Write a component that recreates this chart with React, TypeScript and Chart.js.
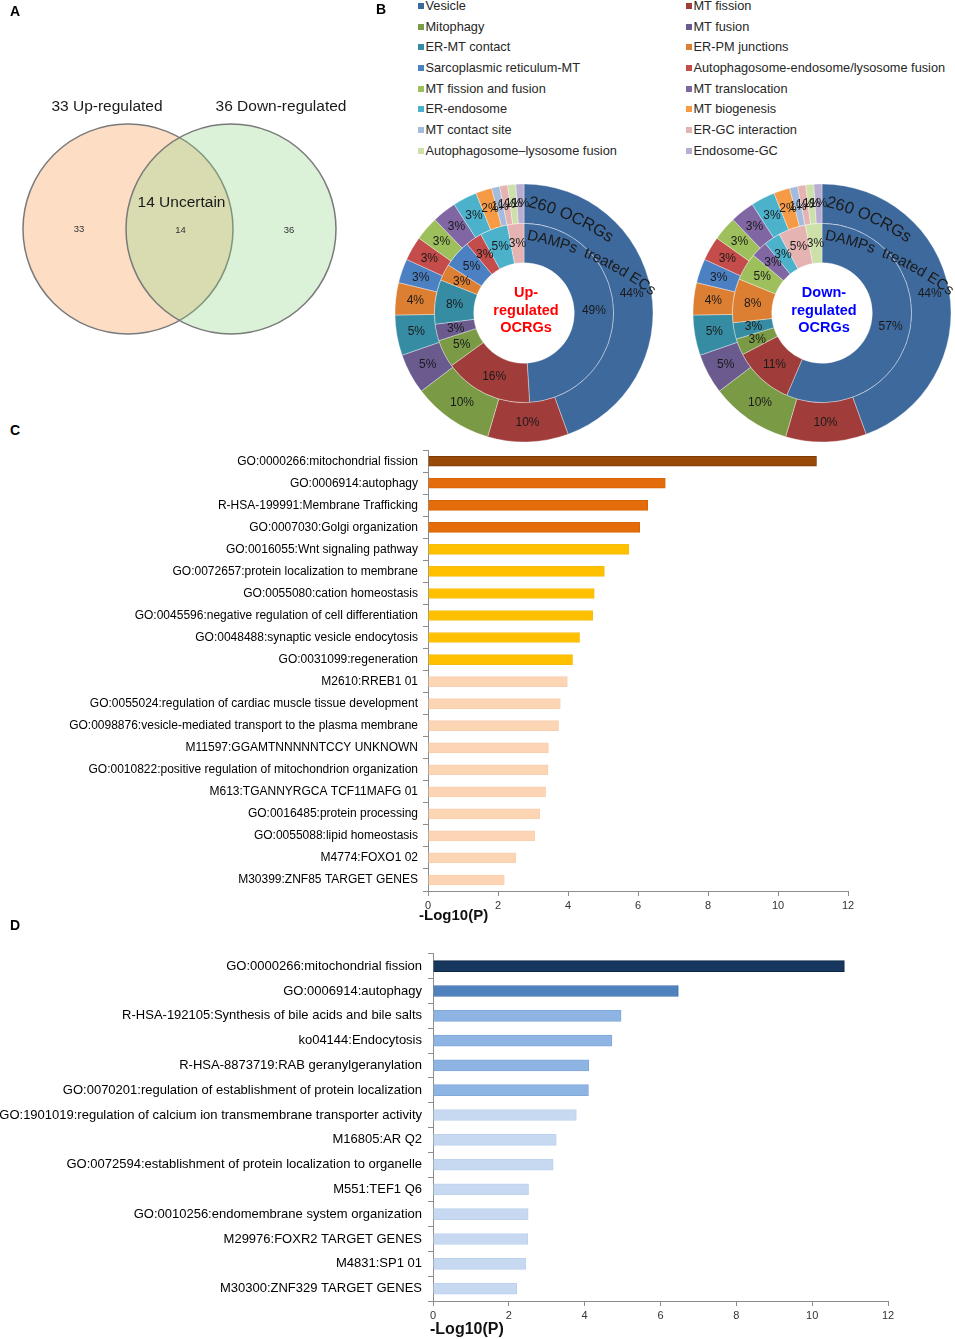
import React, { useEffect, useRef } from 'react';
import { Chart, registerables } from 'chart.js';

Chart.register(...registerables);

const FONT = '"Liberation Sans", Arial, Helvetica, sans-serif';

// ---------- Panel A : Venn ----------
const vennSetLabels = ['33 Up-regulated', '36 Down-regulated'];
const vennSetCounts = [33, 36];
const vennOverlapLabel = '14 Uncertain';
const vennOverlapCount = 14;
const vennFills = ['rgba(250,160,90,0.35)', 'rgba(135,212,128,0.30)'];

// ---------- Panel B : donuts ----------
const ocrgCategories = [
  'Vesicle', 'MT fission', 'Mitophagy', 'MT fusion', 'ER-MT contact', 'ER-PM junctions',
  'Sarcoplasmic reticulum-MT', 'Autophagosome-endosome/lysosome fusion', 'MT fission and fusion',
  'MT translocation', 'ER-endosome', 'MT biogenesis', 'MT contact site', 'ER-GC interaction',
  'Autophagosome\u2013lysosome fusion', 'Endosome-GC',
];
const ocrgColors = [
  '#3e699d', '#a03d3a', '#7a9a45', '#6a5a8e', '#368da3', '#dd7f33',
  '#4b80c2', '#c44c4a', '#9dbf5c', '#8066a3', '#4cb2cc', '#f79a45',
  '#a3bbdc', '#e5b3b2', '#cde0aa', '#b9aed2',
];
const allOcrgShare = [44, 10, 10, 5, 5, 4, 3, 3, 3, 3, 3, 2, 1, 1, 1, 1];
const upDampsShare = [49, 16, 5, 3, 8, 3, 5, 3, 0, 0, 5, 0, 0, 3, 0, 0];
const downDampsShare = [57, 11, 3, 0, 3, 8, 0, 0, 5, 3, 3, 0, 0, 5, 3, 0];
const outerRingLabel = '260 OCRGs';
const innerRingLabel = 'DAMPs  treated ECs';
const upCenterLines = ['Up-', 'regulated', 'OCRGs'];
const downCenterLines = ['Down-', 'regulated', 'OCRGs'];

// ---------- Panel C ----------
const upTerms = [
  'GO:0000266:mitochondrial fission',
  'GO:0006914:autophagy',
  'R-HSA-199991:Membrane Trafficking',
  'GO:0007030:Golgi organization',
  'GO:0016055:Wnt signaling pathway',
  'GO:0072657:protein localization to membrane',
  'GO:0055080:cation homeostasis',
  'GO:0045596:negative regulation of cell differentiation',
  'GO:0048488:synaptic vesicle endocytosis',
  'GO:0031099:regeneration',
  'M2610:RREB1 01',
  'GO:0055024:regulation of cardiac muscle tissue development',
  'GO:0098876:vesicle-mediated transport to the plasma membrane',
  'M11597:GGAMTNNNNNTCCY UNKNOWN',
  'GO:0010822:positive regulation of mitochondrion organization',
  'M613:TGANNYRGCA TCF11MAFG 01',
  'GO:0016485:protein processing',
  'GO:0055088:lipid homeostasis',
  'M4774:FOXO1 02',
  'M30399:ZNF85 TARGET GENES',
];
const upLogP = [11.1, 6.78, 6.28, 6.05, 5.74, 5.04, 4.75, 4.71, 4.33, 4.13, 3.98, 3.78, 3.73, 3.44, 3.43, 3.36, 3.19, 3.05, 2.51, 2.18];
const upTier = [0, 1, 1, 1, 2, 2, 2, 2, 2, 2, 3, 3, 3, 3, 3, 3, 3, 3, 3, 3];
const upTierFill = ['#984807', '#e46c0a', '#ffc000', '#fcd5b5'];
const upTierBorder = ['#7a3905', '#d66408', '#f5bc12', '#f8cfae'];

// ---------- Panel D ----------
const downTerms = [
  'GO:0000266:mitochondrial fission',
  'GO:0006914:autophagy',
  'R-HSA-192105:Synthesis of bile acids and bile salts',
  'ko04144:Endocytosis',
  'R-HSA-8873719:RAB geranylgeranylation',
  'GO:0070201:regulation of establishment of protein localization',
  'GO:1901019:regulation of calcium ion transmembrane transporter activity',
  'M16805:AR Q2',
  'GO:0072594:establishment of protein localization to organelle',
  'M551:TEF1 Q6',
  'GO:0010256:endomembrane system organization',
  'M29976:FOXR2 TARGET GENES',
  'M4831:SP1 01',
  'M30300:ZNF329 TARGET GENES',
];
const downLogP = [10.85, 6.47, 4.96, 4.72, 4.11, 4.1, 3.78, 3.25, 3.17, 2.52, 2.51, 2.5, 2.45, 2.21];
const downTier = [0, 1, 2, 2, 2, 2, 3, 3, 3, 3, 3, 3, 3, 3];
const downTierFill = ['#17375e', '#4f81bd', '#8eb4e3', '#c6d9f1'];
const downTierBorder = ['#0e2645', '#3d6da8', '#80a8da', '#bcd1ee'];

const logAxisMin = 0;
const logAxisMax = 12;
const logAxisStep = 2;
const logAxisTitle = '-Log10(P)';

// ---------- generic canvas ----------
function ChartCanvas({ left, top, width, height, makeConfig }: any) {
  const ref = useRef<HTMLCanvasElement | null>(null);
  useEffect(() => {
    if (!ref.current) return;
    const chart = new Chart(ref.current, makeConfig());
    return () => chart.destroy();
  }, []);
  return (
    <canvas
      ref={ref}
      width={width}
      height={height}
      style={{ position: 'absolute', left, top, width, height }}
    />
  );
}

// ---------- Venn ----------
const VENN = { mid: 179.5, cy: 229, r: 105, d: 103 };
function vennConfig(): any {
  const centers = [VENN.mid - VENN.d / 2, VENN.mid + VENN.d / 2];
  const textPlugin = {
    id: 'vennText',
    afterDatasetsDraw(chart: any) {
      const ctx = chart.ctx;
      const pts = chart.getDatasetMeta(0).data;
      const L = pts[0], R = pts[1];
      const midX = (L.x + R.x) / 2;
      ctx.save();
      ctx.fillStyle = '#1a1a1a';
      ctx.textAlign = 'center';
      ctx.textBaseline = 'alphabetic';
      ctx.font = `15.5px ${FONT}`;
      ctx.fillText(vennSetLabels[0], L.x - 21, L.y - 118);
      ctx.fillText(vennSetLabels[1], R.x + 50, R.y - 118);
      ctx.fillText(vennOverlapLabel, midX + 2, L.y - 22);
      ctx.font = `9.5px ${FONT}`;
      ctx.fillStyle = '#333';
      ctx.textBaseline = 'middle';
      ctx.fillText(String(vennSetCounts[0]), L.x - 49, L.y);
      ctx.fillText(String(vennOverlapCount), midX + 1, L.y + 1.5);
      ctx.fillText(String(vennSetCounts[1]), R.x + 58, R.y + 1.5);
      ctx.restore();
    },
  };
  return {
    type: 'bubble',
    data: {
      datasets: [
        {
          data: centers.map((x) => ({ x, y: VENN.cy, r: VENN.r })),
          backgroundColor: vennFills,
          borderColor: '#7a7a7a',
          borderWidth: 1.5,
          clip: false,
        },
      ],
    },
    options: {
      responsive: false,
      animation: false,
      layout: { padding: 0, autoPadding: false },
      plugins: { legend: { display: false }, tooltip: { enabled: false } },
      scales: {
        x: { type: 'linear', min: 0, max: 380, display: false },
        y: { type: 'linear', min: 0, max: 360, reverse: true, display: false },
      },
    },
    plugins: [textPlugin],
  };
}

// ---------- Donut ----------
function drawArcText(ctx: any, text: string, sx: number, sy: number, rotDeg: number, R: number) {
  const a0 = (rotDeg * Math.PI) / 180;
  const cx = sx - R * Math.sin(a0);
  const cy = sy + R * Math.cos(a0);
  let s = 0;
  for (const ch of text) {
    const w = ctx.measureText(ch).width;
    const a = a0 + (s + w / 2) / R;
    const x = cx + R * Math.sin(a);
    const y = cy - R * Math.cos(a);
    ctx.save();
    ctx.translate(x, y);
    ctx.rotate(a);
    ctx.fillText(ch, 0, 0);
    ctx.restore();
    s += w;
  }
}

function donutConfig(innerShare: number[], centerLines: string[], centerColor: string): any {
  const labelPlugin = {
    id: 'donutLabels',
    afterDatasetsDraw(chart: any) {
      const ctx = chart.ctx;
      ctx.save();
      ctx.fillStyle = '#1a1a1a';
      ctx.textAlign = 'center';
      ctx.textBaseline = 'middle';
      ctx.font = `12px ${FONT}`;
      chart.data.datasets.forEach((ds: any, di: number) => {
        const meta = chart.getDatasetMeta(di);
        meta.data.forEach((arc: any, i: number) => {
          const v = ds.data[i];
          if (!v) return;
          const p = arc.tooltipPosition();
          ctx.fillText(v + '%', p.x, p.y);
        });
      });
      const arc0 = chart.getDatasetMeta(0).data[0];
      const cx = arc0.x, cy = arc0.y;
      ctx.textAlign = 'center';
      ctx.textBaseline = 'alphabetic';
      ctx.font = `16.5px ${FONT}`;
      drawArcText(ctx, chart.data.datasets[0].label, cx + 3.5, cy - 106.5, 14, 260);
      ctx.font = `15px ${FONT}`;
      drawArcText(ctx, chart.data.datasets[1].label, cx + 2.5, cy - 73.5, 11, 300);
      ctx.fillStyle = centerColor;
      ctx.textBaseline = 'middle';
      ctx.font = `bold 14.5px ${FONT}`;
      centerLines.forEach((ln, k) => ctx.fillText(ln, cx + 2, cy - 20 + k * 17.5));
      ctx.restore();
    },
  };
  return {
    type: 'doughnut',
    data: {
      labels: ocrgCategories,
      datasets: [
        {
          label: outerRingLabel,
          data: allOcrgShare,
          backgroundColor: ocrgColors,
          borderColor: 'rgba(255,255,255,0.35)',
          borderWidth: 1,
        },
        {
          label: innerRingLabel,
          data: innerShare,
          backgroundColor: ocrgColors,
          borderColor: 'rgba(255,255,255,0.35)',
          borderWidth: 1,
        },
      ],
    },
    options: {
      responsive: false,
      animation: false,
      radius: 129,
      cutout: '39%',
      layout: { padding: 21 },
      plugins: { legend: { display: false }, tooltip: { enabled: false } },
    },
    plugins: [labelPlugin],
  };
}

// ---------- Bars ----------
function barConfig(opts: any): any {
  const { labels, values, tier, fills, borders, barThickness, labelSize, axisWidth, xHeight, padTop, padRight, labelPad } = opts;
  return {
    type: 'bar',
    data: {
      labels,
      datasets: [
        {
          data: values,
          backgroundColor: tier.map((t: number) => fills[t]),
          borderColor: tier.map((t: number) => borders[t]),
          borderWidth: 1,
          borderSkipped: 'start',
          barThickness,
        },
      ],
    },
    options: {
      indexAxis: 'y',
      responsive: false,
      animation: false,
      layout: { padding: { top: padTop, right: padRight, left: 0, bottom: 0 } },
      plugins: { legend: { display: false }, tooltip: { enabled: false } },
      scales: {
        x: {
          type: 'linear',
          min: logAxisMin,
          max: logAxisMax,
          ticks: { stepSize: logAxisStep, font: { family: FONT, size: 11 }, color: '#333', padding: 3 },
          grid: { drawOnChartArea: false, drawTicks: true, tickLength: 5, color: '#8c8c8c' },
          border: { color: '#8c8c8c', width: 1 },
          afterFit: (s: any) => { s.height = xHeight; },
        },
        y: {
          ticks: { font: { family: FONT, size: labelSize }, color: '#000', padding: labelPad, autoSkip: false },
          grid: { drawOnChartArea: false, drawTicks: true, tickLength: 5, color: '#8c8c8c', offset: true },
          border: { color: '#8c8c8c', width: 1 },
          afterFit: (s: any) => { s.width = axisWidth; },
        },
      },
    },
  };
}

const panelLetter: React.CSSProperties = {
  position: 'absolute',
  fontFamily: FONT,
  fontWeight: 'bold',
  fontSize: 14,
  lineHeight: '14px',
  color: '#000',
};

export default function App() {
  const legendItems = ocrgCategories.map((name, i) => ({
    name,
    color: ocrgColors[i],
    col: i % 2,
    row: Math.floor(i / 2),
  }));
  return (
    <div
      style={{
        position: 'absolute',
        left: 0,
        top: 0,
        width: 955,
        height: 1339,
        overflow: 'hidden',
        background: '#fff',
      }}
    >
      <ChartCanvas left={0} top={0} width={380} height={360} makeConfig={vennConfig} />
      <ChartCanvas left={374} top={163} width={300} height={300}
        makeConfig={() => donutConfig(upDampsShare, upCenterLines, '#ff0000')} />
      <ChartCanvas left={672} top={163} width={300} height={300}
        makeConfig={() => donutConfig(downDampsShare, downCenterLines, '#0000ff')} />
      <ChartCanvas left={0} top={438} width={880} height={492}
        makeConfig={() => barConfig({
          labels: upTerms, values: upLogP, tier: upTier, fills: upTierFill, borders: upTierBorder,
          barThickness: 10, labelSize: 12, axisWidth: 428, xHeight: 39, padTop: 11, padRight: 32, labelPad: 5,
        })} />
      <ChartCanvas left={0} top={940} width={910} height={399}
        makeConfig={() => barConfig({
          labels: downTerms, values: downLogP, tier: downTier, fills: downTierFill, borders: downTierBorder,
          barThickness: 11, labelSize: 13, axisWidth: 433, xHeight: 38, padTop: 9, padRight: 22, labelPad: 6,
        })} />

      {legendItems.map((it) => (
        <div
          key={it.name}
          style={{
            position: 'absolute',
            left: it.col === 0 ? 418 : 686,
            top: -1 + it.row * 20.65,
            height: 14,
            display: 'flex',
            alignItems: 'center',
            fontFamily: FONT,
            fontSize: 12.75,
            lineHeight: '14px',
            color: '#262626',
            whiteSpace: 'nowrap',
          }}
        >
          <span style={{ display: 'inline-block', width: 6, height: 6, background: it.color, marginRight: 1.5 }} />
          <span>{it.name}</span>
        </div>
      ))}

      <div style={{ ...panelLetter, left: 10, top: 4 }}>A</div>
      <div style={{ ...panelLetter, left: 376, top: 2 }}>B</div>
      <div style={{ ...panelLetter, left: 10, top: 423 }}>C</div>
      <div style={{ ...panelLetter, left: 10, top: 918 }}>D</div>

      <div style={{ position: 'absolute', left: 419, top: 906, fontFamily: FONT, fontWeight: 'bold', fontSize: 15, lineHeight: '17px', color: '#111' }}>
        {logAxisTitle}
      </div>
      <div style={{ position: 'absolute', left: 430, top: 1320, fontFamily: FONT, fontWeight: 'bold', fontSize: 16, lineHeight: '18px', color: '#111' }}>
        {logAxisTitle}
      </div>
    </div>
  );
}
